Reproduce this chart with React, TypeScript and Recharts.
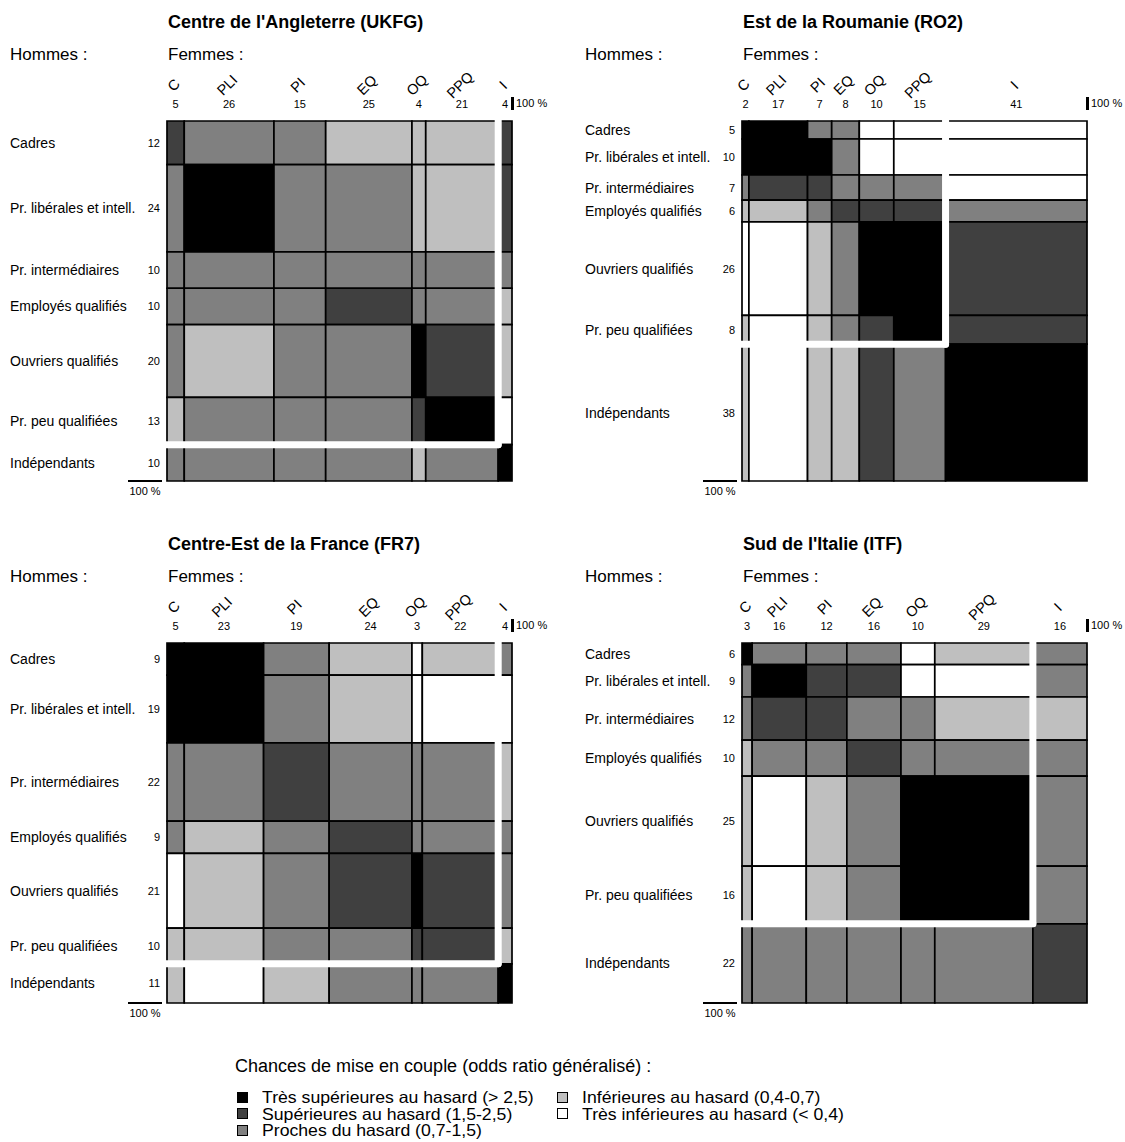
import React from "react";
import { ComposedChart, XAxis, YAxis, ReferenceArea, ReferenceLine } from "recharts";

const colCodes = ["C", "PLI", "PI", "EQ", "OQ", "PPQ", "I"];
const rowLabels = [
  "Cadres",
  "Pr. libérales et intell.",
  "Pr. intermédiaires",
  "Employés qualifiés",
  "Ouvriers qualifiés",
  "Pr. peu qualifiées",
  "Indépendants",
];

// odds classes: 4 = très supérieures, 3 = supérieures, 2 = proches, 1 = inférieures, 0 = très inférieures
const ukfgWomen = [5, 26, 15, 25, 4, 21, 4];
const ukfgMen = [12, 24, 10, 10, 20, 13, 10];
const ukfgOdds = [
  [3, 2, 2, 1, 1, 1, 3],
  [2, 4, 2, 2, 1, 1, 3],
  [2, 2, 2, 2, 2, 2, 2],
  [2, 2, 2, 3, 2, 2, 1],
  [2, 1, 2, 2, 4, 3, 1],
  [1, 2, 2, 2, 3, 4, 0],
  [2, 2, 2, 2, 1, 2, 4],
];

const ro2Women = [2, 17, 7, 8, 10, 15, 41];
const ro2Men = [5, 10, 7, 6, 26, 8, 38];
const ro2Odds = [
  [4, 4, 2, 2, 0, 0, 0],
  [4, 4, 4, 2, 0, 0, 0],
  [2, 3, 3, 2, 2, 2, 0],
  [1, 1, 2, 3, 3, 3, 2],
  [0, 0, 1, 2, 4, 4, 3],
  [1, 0, 1, 2, 3, 4, 3],
  [1, 0, 1, 1, 3, 2, 4],
];

const fr7Women = [5, 23, 19, 24, 3, 22, 4];
const fr7Men = [9, 19, 22, 9, 21, 10, 11];
const fr7Odds = [
  [4, 4, 2, 1, 0, 1, 2],
  [4, 4, 2, 1, 0, 0, 0],
  [2, 2, 3, 2, 2, 2, 1],
  [2, 1, 2, 3, 2, 2, 2],
  [0, 1, 2, 3, 4, 3, 2],
  [1, 1, 2, 2, 3, 3, 1],
  [1, 0, 1, 2, 2, 2, 4],
];

const itfWomen = [3, 16, 12, 16, 10, 29, 16];
const itfMen = [6, 9, 12, 10, 25, 16, 22];
const itfOdds = [
  [4, 2, 2, 2, 0, 1, 2],
  [2, 4, 3, 3, 0, 0, 2],
  [2, 3, 3, 2, 2, 1, 1],
  [1, 2, 2, 3, 2, 2, 2],
  [1, 0, 1, 2, 4, 4, 2],
  [1, 0, 1, 2, 4, 4, 2],
  [2, 2, 2, 2, 2, 2, 3],
];

const legendItems = [
  "Très inférieures au hasard (< 0,4)",
  "Inférieures au hasard (0,4-0,7)",
  "Proches du hasard (0,7-1,5)",
  "Supérieures au hasard (1,5-2,5)",
  "Très supérieures au hasard (> 2,5)",
];

const greys = ["#ffffff", "#bfbfbf", "#808080", "#404040", "#000000"];

const panels = [
  { title: "Centre de l'Angleterre (UKFG)", women: ukfgWomen, men: ukfgMen, odds: ukfgOdds, left: 0, top: 0 },
  { title: "Est de la Roumanie (RO2)", women: ro2Women, men: ro2Men, odds: ro2Odds, left: 575, top: 0 },
  { title: "Centre-Est de la France (FR7)", women: fr7Women, men: fr7Men, odds: fr7Odds, left: 0, top: 522 },
  { title: "Sud de l'Italie (ITF)", women: itfWomen, men: itfMen, odds: itfOdds, left: 575, top: 522 },
];

const font = "'Liberation Sans', Arial, Helvetica, sans-serif";

const starts = (vals: number[]) => {
  const out: number[] = [];
  let acc = 0;
  vals.forEach((v) => {
    out.push(acc);
    acc += v;
  });
  return out;
};

type PanelProps = {
  title: string;
  women: number[];
  men: number[];
  odds: number[][];
  left: number;
  top: number;
};

const Mosaic: React.FC<PanelProps> = ({ title, women, men, odds, left, top }) => {
  const xTotal = women.reduce((a, b) => a + b, 0);
  const yTotal = men.reduce((a, b) => a + b, 0);
  const xs = starts(women);
  const ys = starts(men);
  const xCenters = xs.map((s, i) => s + women[i] / 2);
  const yCenters = ys.map((s, i) => s + men[i] / 2);
  const xCut = xs[6];
  const yCut = ys[6];

  const cells = odds.flatMap((row, r) =>
    row.map((k, c) => ({
      key: `${r}-${c}`,
      x1: xs[c],
      x2: xs[c] + women[c],
      y1: ys[r],
      y2: ys[r] + men[r],
      fill: greys[k],
    }))
  );

  return (
    <div style={{ position: "absolute", left, top, width: 550, height: 505 }}>
      <div style={{ position: "absolute", left: 168, top: 12, fontSize: 18, fontWeight: 700, whiteSpace: "nowrap" }}>
        {title}
      </div>
      <div style={{ position: "absolute", left: 10, top: 45, fontSize: 17 }}>Hommes :</div>
      <div style={{ position: "absolute", left: 168, top: 45, fontSize: 17 }}>Femmes :</div>
      <ComposedChart
        width={550}
        height={505}
        data={[]}
        margin={{ top: 91, right: 38, bottom: 24, left: 107 }}
      >
        <XAxis
          type="number"
          orientation="top"
          dataKey="x"
          domain={[0, xTotal]}
          ticks={xCenters}
          interval={0}
          height={30}
          axisLine={false}
          tickLine={false}
          allowDataOverflow
          tick={(p: any) => (
            <g>
              <text
                x={p.x - 2}
                y={90}
                fontSize={14.5}
                fontFamily={font}
                textAnchor="middle"
                transform={`rotate(-45 ${p.x - 2} 85)`}
              >
                {colCodes[p.index]}
              </text>
              <text x={p.x} y={108} fontSize={11} fontFamily={font} textAnchor="middle">
                {women[p.index]}
              </text>
            </g>
          )}
        />
        <YAxis
          type="number"
          dataKey="y"
          domain={[0, yTotal]}
          reversed
          ticks={yCenters}
          interval={0}
          width={60}
          axisLine={false}
          tickLine={false}
          allowDataOverflow
          tick={(p: any) => (
            <g>
              <text x={10} y={p.y + 5} fontSize={14} fontFamily={font}>
                {rowLabels[p.index]}
              </text>
              <text x={160} y={p.y + 4} fontSize={11} fontFamily={font} textAnchor="end">
                {men[p.index]}
              </text>
            </g>
          )}
        />
        {cells.map((c) => (
          <ReferenceArea
            key={c.key}
            x1={c.x1}
            x2={c.x2}
            y1={c.y1}
            y2={c.y2}
            fill={c.fill}
            fillOpacity={1}
            stroke="#000"
            strokeWidth={1.7}
            ifOverflow="visible"
          />
        ))}
        <ReferenceLine
          segment={[
            { x: xCut, y: -0.6 },
            { x: xCut, y: yCut },
          ]}
          stroke="#fff"
          strokeWidth={7}
          strokeLinecap="round"
          ifOverflow="visible"
        />
        <ReferenceLine
          segment={[
            { x: xCut, y: yCut },
            { x: -1, y: yCut },
          ]}
          stroke="#fff"
          strokeWidth={7}
          strokeLinecap="round"
          ifOverflow="visible"
        />
      </ComposedChart>
      <div style={{ position: "absolute", left: 511, top: 97, width: 2.5, height: 13, background: "#000" }} />
      <div style={{ position: "absolute", left: 516, top: 97, fontSize: 11, whiteSpace: "nowrap" }}>100 %</div>
      <div style={{ position: "absolute", left: 128, top: 480, width: 34, height: 1.5, background: "#000" }} />
      <div style={{ position: "absolute", left: 128, top: 485, width: 34, fontSize: 11, textAlign: "center" }}>100 %</div>
    </div>
  );
};

const legendOrder = [4, 3, 2, 1, 0];

export default function App() {
  return (
    <div
      style={{
        position: "absolute",
        left: 0,
        top: 0,
        width: 1125,
        height: 1142,
        overflow: "hidden",
        background: "#fff",
        fontFamily: font,
        color: "#000",
      }}
    >
      {panels.map((p) => (
        <Mosaic key={p.title} {...p} />
      ))}
      <div style={{ position: "absolute", left: 235, top: 1056, fontSize: 18, whiteSpace: "nowrap" }}>
        Chances de mise en couple (odds ratio généralisé) :
      </div>
      {legendOrder.map((k, i) => {
        const col = i < 3 ? 0 : 1;
        const row = i < 3 ? i : i - 3;
        return (
          <div
            key={k}
            style={{
              position: "absolute",
              left: col === 0 ? 237 : 557,
              top: 1089 + row * 16.5,
              display: "flex",
              alignItems: "center",
              whiteSpace: "nowrap",
              fontSize: 16.5,
              lineHeight: "16px",
            }}
          >
            <span
              style={{
                display: "inline-block",
                width: 9,
                height: 9,
                background: greys[k],
                border: "1.5px solid #000",
                marginRight: 14,
              }}
            />
            <span style={{ display: "inline-block", transform: "scaleX(1.07)", transformOrigin: "left center" }}>
              {legendItems[k]}
            </span>
          </div>
        );
      })}
    </div>
  );
}
